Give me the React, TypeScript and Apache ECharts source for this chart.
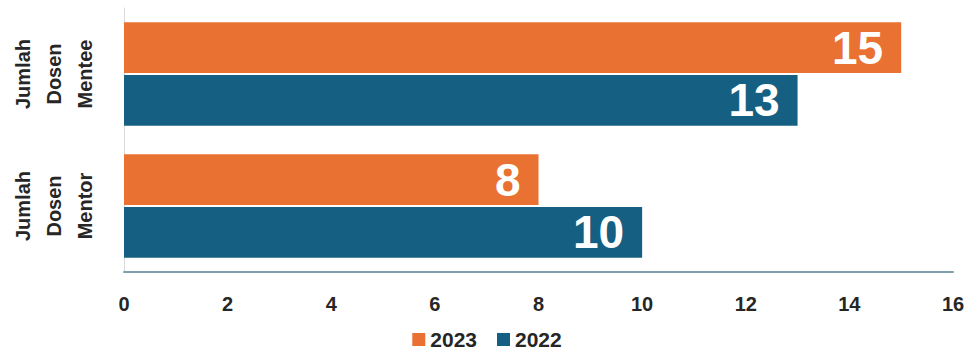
import React, { useEffect, useRef } from "react";
import * as echarts from "echarts";

const categories = ["Jumlah\nDosen\nMentee", "Jumlah\nDosen\nMentor"];
const seriesNames = ["2023", "2022"];
const values2023 = [15, 8];
const values2022 = [13, 10];
const xTicks = { min: 0, max: 16, interval: 2 };

const FONT = "Liberation Sans, Arial, sans-serif";
const ORANGE = "#E97132";
const BLUE = "#156082";

export default function App() {
  const ref = useRef<HTMLDivElement>(null);
  useEffect(() => {
    if (!ref.current) return;
    const chart = echarts.init(ref.current, undefined, { renderer: "svg" });
    const labelStyle = {
      show: true,
      position: "insideRight",
      distance: 18,
      color: "#ffffff",
      fontFamily: FONT,
      fontWeight: "bold",
      fontSize: 46,
    };
    chart.setOption({
      animation: false,
      backgroundColor: "#ffffff",
      grid: { left: 124, right: 21, top: 8, bottom: 80 },
      legend: {
        data: seriesNames,
        top: 324,
        left: "center",
        icon: "rect",
        itemWidth: 13,
        itemHeight: 13,
        itemGap: 20,
        textStyle: { fontFamily: FONT, fontWeight: "bold", fontSize: 21, color: "#262626" },
      },
      xAxis: {
        type: "value",
        min: xTicks.min,
        max: xTicks.max,
        interval: xTicks.interval,
        splitLine: { show: false },
        axisTick: { show: false },
        axisLine: { show: true, lineStyle: { color: "#7f9fae", width: 2 } },
        axisLabel: {
          margin: 22,
          fontFamily: FONT,
          fontWeight: "bold",
          fontSize: 20,
          color: "#262626",
        },
      },
      yAxis: {
        type: "category",
        data: categories,
        inverse: true,
        axisTick: { show: false },
        axisLine: { show: true, lineStyle: { color: "#d9d9d9", width: 1 } },
        axisLabel: {
          rotate: 90,
          margin: 24,
          align: "center",
          fontFamily: FONT,
          fontWeight: "bold",
          fontSize: 20,
          lineHeight: 31,
          color: "#262626",
        },
      },
      series: [
        {
          name: seriesNames[0],
          type: "bar",
          data: values2023,
          itemStyle: { color: ORANGE },
          barCategoryGap: "21.5%",
          barGap: "4%",
          label: labelStyle,
        },
        {
          name: seriesNames[1],
          type: "bar",
          data: values2022,
          itemStyle: { color: BLUE },
          barCategoryGap: "21.5%",
          barGap: "4%",
          label: labelStyle,
        },
      ],
    });
    return () => chart.dispose();
  }, []);
  return (
    <div
      ref={ref}
      style={{ position: "fixed", left: 0, top: 0, width: 974, height: 352 }}
    />
  );
}
